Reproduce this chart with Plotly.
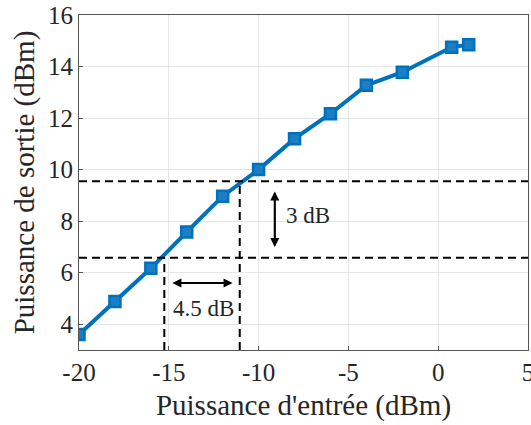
import plotly.graph_objects as go

x_in = [-20, -18, -16, -14, -12, -10, -8, -6, -4, -2, 0.75, 1.7]
y_out = [3.6, 4.88, 6.17, 7.58, 8.97, 10.0, 11.2, 12.17, 13.27, 13.78, 14.75, 14.85]

h_levels = [9.55, 6.58]
v_levels = [-15.25, -11.05]
x_ticks = [-20, -15, -10, -5, 0, 5]
x_tick_text = ["-20", "-15", "-10", "-5", "0", "5"]
y_ticks = [4, 6, 8, 10, 12, 14, 16]

FONT = "'Liberation Serif', 'Times New Roman', 'DejaVu Serif', serif"
TXT = "#262626"

fig = go.Figure()
fig.add_trace(go.Scatter(
    x=x_in, y=y_out, mode="lines+markers",
    line=dict(color="#0072BD", width=4),
    marker=dict(symbol="square", size=11, color="#1a7fc4",
                line=dict(color="#0072BD", width=2.5)),
    showlegend=False))

for yl in h_levels:
    fig.add_trace(go.Scatter(x=[-20, 5], y=[yl, yl], mode="lines",
                             line=dict(color="black", width=2, dash="8px,5px"),
                             showlegend=False))
for xl, yl in zip(v_levels, [h_levels[1], h_levels[0]]):
    fig.add_trace(go.Scatter(x=[xl, xl], y=[3, yl], mode="lines",
                             line=dict(color="black", width=2, dash="8px,5px"),
                             showlegend=False))

def dbl_arrow(x0, y0, x1, y1):
    for (a, b, c, d) in [(x0, y0, x1, y1), (x1, y1, x0, y0)]:
        fig.add_annotation(x=c, y=d, ax=a, ay=b, xref="x", yref="y",
                           axref="x", ayref="y", showarrow=True, arrowhead=2,
                           arrowsize=1, arrowwidth=1.8, arrowcolor="black", text="")

dbl_arrow(-9.1, 7.0, -9.1, 9.15)
dbl_arrow(-14.8, 5.6, -11.45, 5.6)

fig.add_annotation(x=-8.6, y=8.22, text="3 dB", showarrow=False, xanchor="left",
                   font=dict(family=FONT, size=23, color=TXT))
fig.add_annotation(x=-13.05, y=4.62, text="4.5 dB", showarrow=False,
                   font=dict(family=FONT, size=23, color=TXT))

axis_common = dict(showgrid=True, gridcolor="#e6e6e6", gridwidth=1,
                   showline=True, linecolor="#555", linewidth=1, mirror=True,
                   ticks="inside", ticklen=4, tickcolor="#555", zeroline=False,
                   automargin=False, ticklabeloverflow="allow",
                   tickfont=dict(family=FONT, size=25, color=TXT))

fig.update_xaxes(range=[-20, 5], tickvals=x_ticks, ticktext=x_tick_text, **axis_common,
                 title=dict(text="Puissance d'entrée (dBm)", standoff=9,
                            font=dict(family=FONT, size=29, color=TXT)))
fig.update_yaxes(range=[3, 16], tickvals=y_ticks, **axis_common,
                 title=dict(text="Puissance de sortie (dBm)", standoff=4,
                            font=dict(family=FONT, size=29, color=TXT)))

fig.update_layout(width=531, height=425, plot_bgcolor="white", paper_bgcolor="white",
                  font=dict(family=FONT),
                  margin=dict(l=79, r=3, t=15, b=75))

fig.write_html("out.html", config={"displayModeBar": False},
               post_script="document.body.style.margin='0';document.body.style.padding='0';")
